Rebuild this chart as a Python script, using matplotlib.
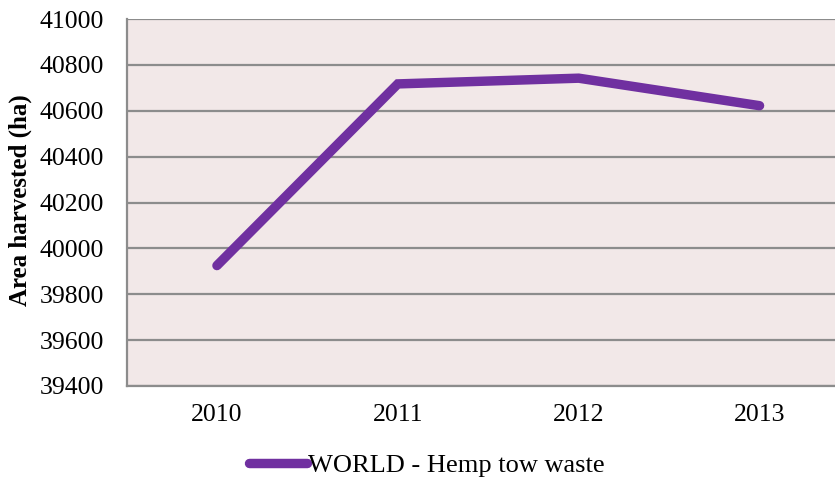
import matplotlib
matplotlib.use("Agg")
import matplotlib.pyplot as plt

years = ["2010", "2011", "2012", "2013"]
area_ha = [39925, 40717, 40742, 40622]
series_name = "WORLD - Hemp tow waste"
y_ticks = [39400, 39600, 39800, 40000, 40200, 40400, 40600, 40800, 41000]

plt.rcParams["font.family"] = ["Liberation Serif", "DejaVu Serif"]

fig = plt.figure(figsize=(8.35, 4.78), dpi=100)
ax = fig.add_axes([126.5 / 835, 1 - 386 / 478, 723.5 / 835, 367 / 478])
ax.set_facecolor("#F2E8E8")

x = list(range(len(years)))
ax.plot(x, area_ha, color="#7030A0", linewidth=6.8, solid_capstyle="round",
        solid_joinstyle="miter", label=series_name, zorder=3)

ax.set_xlim(-0.5, len(years) - 0.5)
ax.set_ylim(y_ticks[0], y_ticks[-1])
ax.set_yticks(y_ticks)
ax.set_xticks(x)
ax.set_xticklabels(years)
ax.tick_params(axis="both", length=0, labelsize=18.5, labelcolor="black")
ax.tick_params(axis="y", pad=16)
ax.tick_params(axis="x", pad=13)

ax.yaxis.grid(True, color="#8C8C8C", linewidth=1.6)
ax.set_axisbelow(True)
for side in ("top", "right"):
    ax.spines[side].set_visible(False)
for side in ("left", "bottom"):
    ax.spines[side].set_color("#8C8C8C")
    ax.spines[side].set_linewidth(1.6)

fig.text(20 / 835, 1 - 200 / 478, "Area harvested (ha)", rotation=90,
         ha="center", va="center", fontsize=18, fontweight="bold")

leg = fig.legend(loc="center", bbox_to_anchor=(427 / 835, 1 - 465 / 478),
                 frameon=False, fontsize=19, handlelength=2.2,
                 handletextpad=0.05)
for h in leg.get_lines():
    h.set_solid_capstyle("round")

fig.savefig("out.png", dpi=100)
